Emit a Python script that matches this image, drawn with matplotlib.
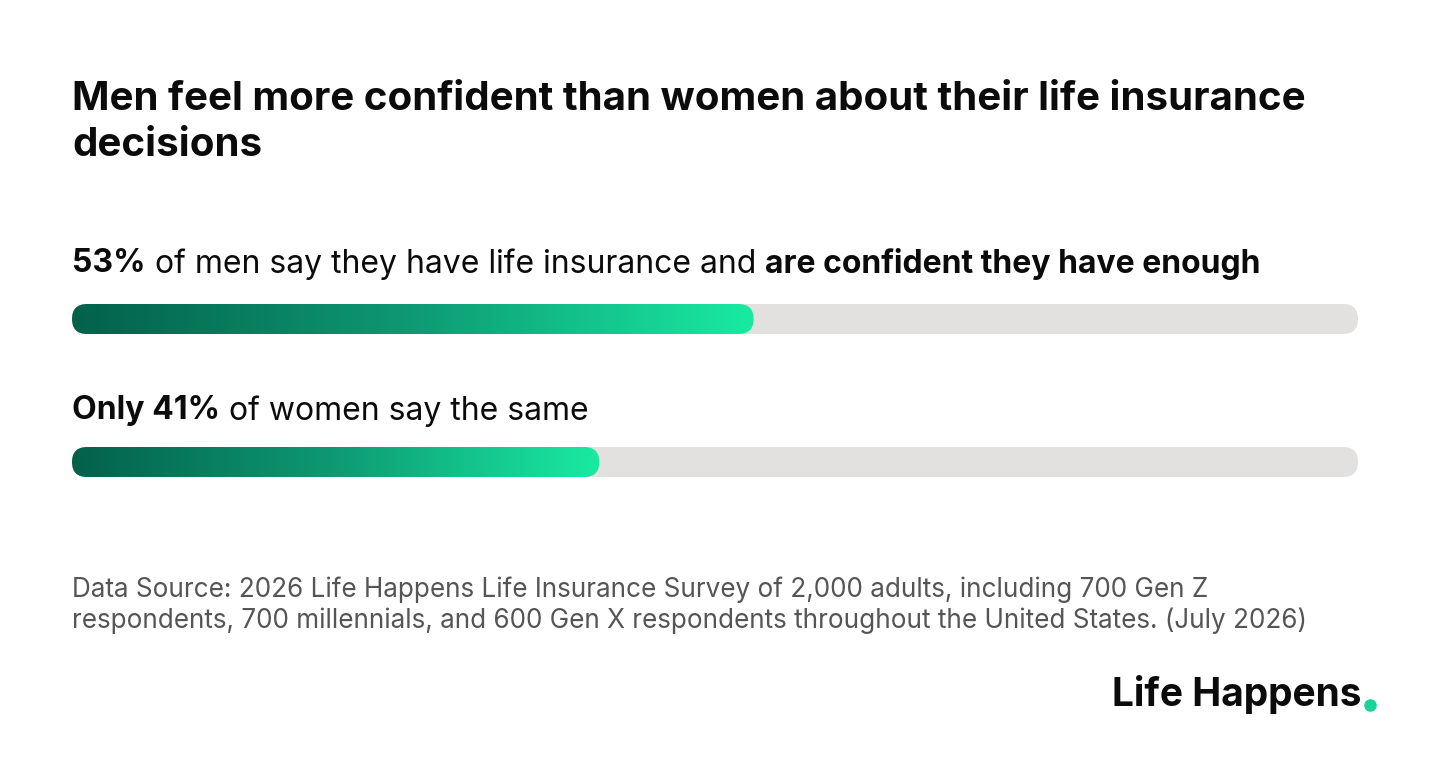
import numpy as np
import matplotlib
matplotlib.use("Agg")
import matplotlib.pyplot as plt
from matplotlib.patches import FancyBboxPatch
from matplotlib.colors import LinearSegmentedColormap

# Chart data
groups = ["men", "women"]
values = [53, 41]
label_parts = [
    [("53%", "bold"), (" of men say they have life insurance and ", "normal"),
     ("are confident they have enough", "bold")],
    [("Only 41%", "bold"), (" of women say the same", "normal")],
]
title = "Men feel more confident than women about their life insurance\ndecisions"
source = ("Data Source: 2026 Life Happens Life Insurance Survey of 2,000 adults, including 700 Gen Z\n"
          "respondents, 700 millennials, and 600 Gen X respondents throughout the United States. (July 2026)")

W, H = 1440, 763
plt.rcParams['font.family'] = ['Inter', 'DejaVu Sans']
fig = plt.figure(figsize=(W / 100, H / 100), dpi=100)
ax = fig.add_axes([0, 0, 1, 1])
ax.set_xlim(0, W)
ax.set_ylim(H, 0)
ax.axis("off")

ink = "#0b0b0b"
ax.text(72, 81, title, fontsize=29, fontweight="bold", color=ink, va="top", linespacing=1.3)

cmap = LinearSegmentedColormap.from_list("g", ["#03614a", "#0e9a73", "#19eaa2"])
grad = np.linspace(0, 1, 256).reshape(1, -1)

x0, x1 = 72, 1358
bar_h = 30
label_y = [264, 411]
bar_y = [319, 462]

fig.canvas.draw()
renderer = fig.canvas.get_renderer()
inv = ax.transData.inverted()

for parts, val, ly, by in zip(label_parts, values, label_y, bar_y):
    x = x0
    for txt, wt in parts:
        t = ax.text(x, ly, txt, fontsize=23, fontweight=wt, color=ink, va="center")
        bb = t.get_window_extent(renderer)
        x = inv.transform((bb.x1, bb.y0))[0]
    # grey track
    ax.add_patch(FancyBboxPatch((x0, by - bar_h / 2), x1 - x0, bar_h,
                                boxstyle=f"round,pad=0,rounding_size={bar_h/2}",
                                fc="#e2e1df", ec="none"))
    xe = x0 + (x1 - x0) * val / 100
    clip = FancyBboxPatch((x0, by - bar_h / 2), xe - x0, bar_h,
                          boxstyle=f"round,pad=0,rounding_size={bar_h/2}",
                          fc="none", ec="none")
    ax.add_patch(clip)
    im = ax.imshow(grad, cmap=cmap, extent=[x0, xe, by + bar_h / 2, by - bar_h / 2],
                   aspect="auto", zorder=3)
    im.set_clip_path(clip)

ax.text(72, 605, source, fontsize=18.8, color="#555555", va="center", linespacing=1.2)

t = ax.text(1362, 694, "Life Happens", fontsize=28, fontweight="bold", color=ink,
            ha="right", va="center")
bb = t.get_window_extent(renderer)
ex = inv.transform((bb.x1, bb.y0))[0]
ax.plot([ex + 8], [705], "o", ms=8, color="#19d39a")

ax.set_xlim(0, W)
ax.set_ylim(H, 0)
fig.savefig("out.png", dpi=100)
